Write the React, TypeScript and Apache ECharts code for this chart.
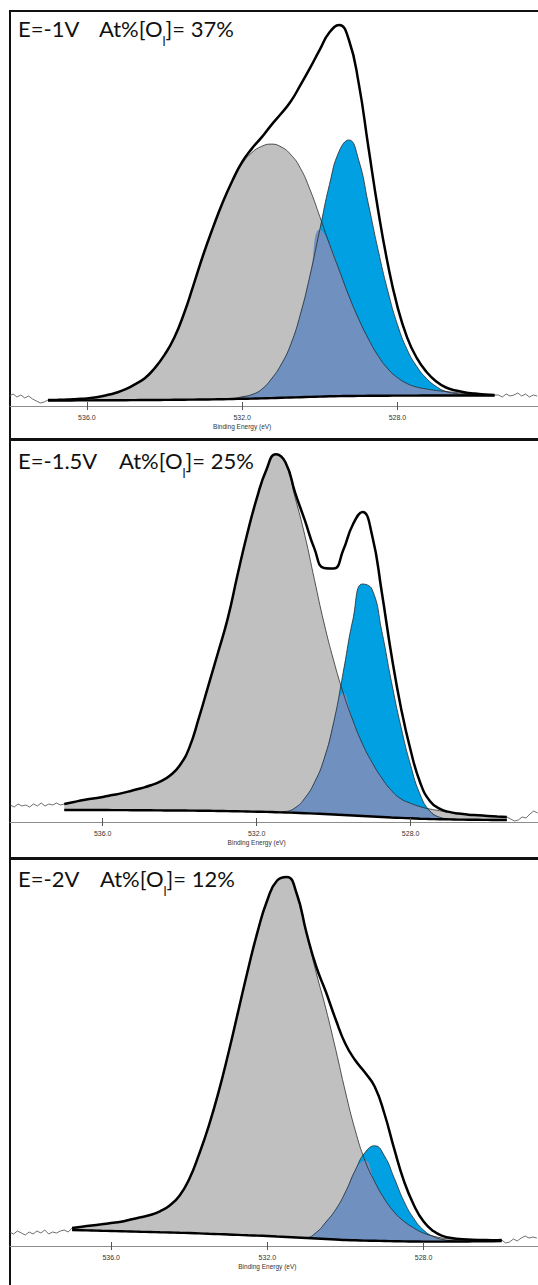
import { useEffect, useRef } from "react";
import * as echarts from "echarts";

// Binding energy grid (eV) of the fitted region
const FIT_E_A = [537.0, 536.75, 536.5, 536.25, 536.0, 535.75, 535.5, 535.25, 535.0, 534.75, 534.5, 534.25, 534.0, 533.75, 533.5, 533.25, 533.0, 532.75, 532.5, 532.25, 532.0, 531.75, 531.5, 531.25, 531.0, 530.75, 530.5, 530.25, 530.0, 529.75, 529.5, 529.25, 529.0, 528.75, 528.5, 528.25, 528.0, 527.75, 527.5, 527.25, 527.0, 526.75, 526.5, 526.25, 526.0, 525.75, 525.5];
const FIT_E_B = [537.0, 536.75, 536.5, 536.25, 536.0, 535.75, 535.5, 535.25, 535.0, 534.75, 534.5, 534.25, 534.0, 533.75, 533.5, 533.25, 533.0, 532.75, 532.5, 532.25, 532.0, 531.75, 531.5, 531.25, 531.0, 530.75, 530.5, 530.25, 530.0, 529.75, 529.5, 529.25, 529.0, 528.75, 528.5, 528.25, 528.0, 527.75, 527.5, 527.25, 527.0, 526.75, 526.5, 526.25, 526.0];

// Panel 1 (E = -1 V): background, O-II component, O-I (lattice) component
const BG_1 = [5.5, 5.5, 5.5, 5.6, 5.6, 5.7, 5.7, 5.8, 5.8, 5.9, 6, 6, 6.1, 6.2, 6.3, 6.4, 6.5, 6.6, 6.8, 7, 7.2, 7.4, 7.6, 7.9, 8.2, 8.5, 8.8, 9.1, 9.4, 9.7, 9.9, 10, 10.1, 10.2, 10.3, 10.3, 10.4, 10.4, 10.4, 10.5, 10.5, 10.5, 10.5, 10.5, 10.5, 10.5, 10.5];
const OII_1 = [0.5, 0.7, 1, 1.5, 2, 3, 5, 7.5, 11, 16, 22, 32, 45, 62, 86, 115, 145, 172, 197, 218, 235, 246, 252, 254, 251, 243, 229, 207, 180, 152, 126, 100, 77, 57, 40, 27, 18, 12, 8.5, 6.5, 5, 4, 3, 2, 1.5, 1, 0.5];
const OI_1 = [0, 0, 0, 0, 0, 0, 0, 0, 0, 0, 0, 0, 0, 0, 0, 0, 0, 0, 0, 0.5, 2, 4, 9, 19, 33, 53, 83, 122, 167, 212, 245, 256, 236, 192, 146, 105, 71, 46, 29, 17, 9, 4, 2, 1, 0.5, 0, 0];
const RAW_L_E_1 = [538.0, 537.9, 537.8, 537.7, 537.6, 537.5, 537.4, 537.3, 537.2, 537.1, 537.0];
const RAW_L_1 = [10, 12, 9, 11, 8, 10, 7, 5, 3, 4, 6];
const RAW_R_E_1 = [525.5, 525.4, 525.3, 525.2, 525.1, 525.0, 524.9, 524.8, 524.7, 524.6, 524.5, 524.4];
const RAW_R_1 = [11, 11, 9, 12, 10, 11, 13, 10, 12, 9, 11, 10];

// Panel 2 (E = -1.5 V)
const BG_2 = [12, 12, 12, 12, 12, 11.9, 11.9, 11.8, 11.8, 11.7, 11.6, 11.5, 11.5, 11.4, 11.3, 11.2, 11.0, 10.9, 10.7, 10.5, 10.3, 10.1, 9.8, 9.5, 9.2, 8.8, 8.4, 8.0, 7.5, 7.0, 6.5, 6.0, 5.5, 5.0, 4.5, 4.1, 3.7, 3.3, 3.0, 2.8, 2.6, 2.4, 2.3, 2.2, 2.1, 2.0, 2.0];
const OII_2 = [6, 8, 10, 11.5, 13, 15, 17, 19.5, 22, 25, 29, 35, 45, 63, 93, 126, 159, 193, 236, 277, 313, 342, 358, 349, 315, 278, 234, 191, 154, 122, 95, 72, 54, 39, 27, 19, 15, 12, 10, 8.5, 7, 6, 5, 4.5, 4, 3.5, 3];
const OI_2 = [0, 0, 0, 0, 0, 0, 0, 0, 0, 0, 0, 0, 0, 0, 0, 0, 0, 0, 0, 0, 0, 0, 0, 1, 5, 15, 31, 55, 92, 143, 196, 232, 227, 186, 136, 91, 53, 24, 8, 2, 0.5, 0, 0, 0, 0, 0, 0];
const RAW_L_E_2 = [538.4, 538.3, 538.2, 538.1, 538.0, 537.9, 537.8, 537.7, 537.6, 537.5, 537.4, 537.3, 537.2, 537.1, 537.0];
const RAW_L_2 = [17, 15, 18, 16, 17, 15, 18, 16, 19, 16, 18, 17, 19, 17, 18];
const RAW_R_E_2 = [525.5, 525.4, 525.3, 525.2, 525.1, 525.0, 524.9, 524.8, 524.7];
const RAW_R_2 = [5, 3, 1, 2, 5, 4, 8, 11, 9];

// Panel 3 (E = -2 V)
const BG_3 = [16, 15.8, 15.5, 15.2, 15, 14.8, 14.5, 14.2, 14, 13.7, 13.5, 13.2, 13, 12.6, 12.2, 11.9, 11.5, 11.1, 10.7, 10.4, 10, 9.5, 9, 8.5, 8, 7.5, 7, 6.5, 6, 5.7, 5.4, 5.2, 5, 4.8, 4.6, 4.5, 4.4, 4.4, 4.4, 4.5, 4.5, 4.6, 4.7, 4.8, 5];
const OII_3 = [2, 3.5, 5, 6.5, 8, 9.5, 12, 14.5, 17, 21, 27, 37, 54, 79, 108, 142, 181, 223, 265, 304, 336, 356, 360, 344, 305, 266, 230, 190, 148, 110, 80, 59, 42, 29, 20, 13.5, 8.5, 5.5, 3.5, 2.5, 2, 1.6, 1.3, 1, 1];
const OI_3 = [0, 0, 0, 0, 0, 0, 0, 0, 0, 0, 0, 0, 0, 0, 0, 0, 0, 0, 0, 0, 0, 0, 0, 0, 0.5, 6, 17, 30, 48, 70, 88, 95, 85, 63, 40, 23, 11.5, 5, 2, 0.8, 0.3, 0, 0, 0, 0];
const RAW_L_E_3 = [538.6, 538.5, 538.4, 538.3, 538.2, 538.1, 538.0, 537.9, 537.8, 537.7, 537.6, 537.5, 537.4, 537.3, 537.2, 537.1, 537.0];
const RAW_L_3 = [14, 12, 15, 13, 11, 14, 12, 15, 13, 16, 12, 14, 13, 15, 16, 14, 18];
const RAW_R_E_3 = [526.0, 525.9, 525.8, 525.7, 525.6, 525.5, 525.4, 525.3, 525.2, 525.1];
const RAW_R_3 = [6, 3, 4, 7, 5, 8, 10, 8, 9, 8];

const TICKS = [536, 532, 528];
const POTENTIALS = ["E=-1V", "E=-1.5V", "E=-2V"];
const OL_PERCENT = ["37%", "25%", "12%"];

const C_OII = "#c0c0c0";
const C_OI = "#00a0e2";
const C_OVER = "#7090c0";
const OUTLINE = "#2b2b2b";

type PanelCfg = {
  top: number; axisY: number; min: number; max: number;
  E: number[]; bg: number[]; oii: number[]; oi: number[];
  rawLE: number[]; rawL: number[]; rawRE: number[]; rawR: number[];
  titleY: number; restX: number;
};

const PANELS: PanelCfg[] = [
  { top: 11, axisY: 406, min: 524.38, max: 537.98, E: FIT_E_A, bg: BG_1, oii: OII_1, oi: OI_1, rawLE: RAW_L_E_1, rawL: RAW_L_1, rawRE: RAW_R_E_1, rawR: RAW_R_1, titleY: 28.5, restX: 99 },
  { top: 440, axisY: 822, min: 524.69, max: 538.41, E: FIT_E_A, bg: BG_2, oii: OII_2, oi: OI_2, rawLE: RAW_L_E_2, rawL: RAW_L_2, rawRE: RAW_R_E_2, rawR: RAW_R_2, titleY: 460, restX: 119 },
  { top: 859, axisY: 1246, min: 525.07, max: 538.59, E: FIT_E_B, bg: BG_3, oii: OII_3, oi: OI_3, rawLE: RAW_L_E_3, rawL: RAW_L_3, rawRE: RAW_R_E_3, rawR: RAW_R_3, titleY: 878.5, restX: 100 },
];

// rows are [intensity, energy] so that stacking happens on the intensity (y) dimension
const rows = (xs: number[], ys: number[]) => xs.map((x, k) => [ys[k], x]);

function buildOption() {
  const grid: any[] = [];
  const xAxis: any[] = [];
  const yAxis: any[] = [];
  const series: any[] = [];
  const graphic: any[] = [];
  const labelFont = "Liberation Sans";
  const TITLE_FS = 22;

  PANELS.forEach((p, i) => {
    const h = p.axisY - p.top;
    grid.push({ left: 10, top: p.top, width: 528, height: h, containLabel: false });
    xAxis.push({
      gridIndex: i, type: "value", min: p.min, max: p.max, inverse: true, position: "bottom", z: 10,
      axisLine: { show: true, lineStyle: { color: "#8c8c8c", width: 1 } },
      axisTick: { show: true, customValues: TICKS, length: 4, lineStyle: { color: "#555", width: 1 } },
      axisLabel: {
        customValues: TICKS, fontSize: 7, color: "#333333", margin: 7, fontFamily: labelFont, lineHeight: 9,
        formatter: (v: number) => (v === 532 ? `${v.toFixed(1)}\n{n|Binding Energy (eV)}` : v.toFixed(1)),
        rich: { n: { fontSize: 6.5, lineHeight: 9, color: "#333333", fontFamily: labelFont } },
      },
      splitLine: { show: false },
    });
    xAxis.push({
      gridIndex: i, type: "value", min: p.min, max: p.max, inverse: true, position: "top", offset: -h, z: 10,
      axisLine: { show: false },
      axisTick: { show: true, customValues: TICKS, length: 4, lineStyle: { color: "#555", width: 1 } },
      axisLabel: { show: false },
      splitLine: { show: false },
    });
    yAxis.push({ gridIndex: i, type: "value", min: 0, max: h, show: false, splitLine: { show: false } });

    const base = {
      type: "line", xAxisIndex: 2 * i, yAxisIndex: i, symbol: "none", smooth: 0.5, silent: true,
      encode: { x: 1, y: 0 },
    };
    const over = p.oii.map((v, k) => Math.min(v, p.oi[k]));
    const oiiAbs = p.bg.map((v, k) => v + p.oii[k]);
    const oiAbs = p.bg.map((v, k) => v + p.oi[k]);
    const env = p.bg.map((v, k) => v + p.oii[k] + p.oi[k]);
    const hidden = { opacity: 0, width: 0 };

    // filled components sitting on the background
    series.push({ ...base, stack: `g${i}`, data: rows(p.E, p.bg), lineStyle: hidden });
    series.push({ ...base, stack: `g${i}`, data: rows(p.E, p.oii), lineStyle: hidden, areaStyle: { color: C_OII, opacity: 1 } });
    series.push({ ...base, stack: `b${i}`, data: rows(p.E, p.bg), lineStyle: hidden });
    series.push({ ...base, stack: `b${i}`, data: rows(p.E, p.oi), lineStyle: hidden, areaStyle: { color: C_OI, opacity: 1 } });
    series.push({ ...base, stack: `o${i}`, data: rows(p.E, p.bg), lineStyle: hidden });
    series.push({ ...base, stack: `o${i}`, data: rows(p.E, over), lineStyle: hidden, areaStyle: { color: C_OVER, opacity: 1 } });
    // component outlines
    series.push({ ...base, data: rows(p.E, oiiAbs), lineStyle: { color: OUTLINE, width: 0.8 } });
    series.push({ ...base, data: rows(p.E, oiAbs), lineStyle: { color: OUTLINE, width: 0.8 } });
    // raw spectrum tails, background and envelope
    series.push({ ...base, data: rows(p.rawLE, p.rawL), smooth: false, lineStyle: { color: "#4a4a4a", width: 0.8 } });
    series.push({ ...base, data: rows(p.rawRE, p.rawR), smooth: false, lineStyle: { color: "#4a4a4a", width: 0.8 } });
    series.push({ ...base, data: rows(p.E, p.bg), lineStyle: { color: "#000", width: 2.4 } });
    series.push({ ...base, data: rows(p.E, env), lineStyle: { color: "#000", width: 2.5 } });

    graphic.push({
      type: "text", x: 18, y: p.titleY, silent: true,
      style: { text: POTENTIALS[i], fontSize: TITLE_FS, fontFamily: "Lato", fill: "#111", verticalAlign: "middle" },
    });
    graphic.push({
      type: "text", x: p.restX, y: p.titleY + 4, silent: true,
      style: {
        text: `{m|At%[O}{s|l}{m|]= ${OL_PERCENT[i]}}`, verticalAlign: "middle",
        rich: {
          m: { fontSize: TITLE_FS, fontFamily: "Lato", fill: "#111", padding: [0, 0, 8, 0], verticalAlign: "bottom" },
          s: { fontSize: 13, fontFamily: "Lato", fill: "#111", verticalAlign: "bottom" },
        },
      },
    });
  });

  // panel frames
  graphic.push({ type: "line", silent: true, shape: { x1: 10, y1: 10, x2: 10, y2: 1285 }, style: { stroke: "#111", lineWidth: 2 } });
  graphic.push({ type: "line", silent: true, shape: { x1: 9, y1: 11, x2: 538, y2: 11 }, style: { stroke: "#111", lineWidth: 2 } });
  graphic.push({ type: "line", silent: true, shape: { x1: 9, y1: 439.5, x2: 538, y2: 439.5 }, style: { stroke: "#111", lineWidth: 3 } });
  graphic.push({ type: "line", silent: true, shape: { x1: 9, y1: 858.5, x2: 538, y2: 858.5 }, style: { stroke: "#111", lineWidth: 3 } });

  return { animation: false, backgroundColor: "#fff", grid, xAxis, yAxis, series, graphic };
}

export default function App() {
  const ref = useRef<HTMLDivElement>(null);
  useEffect(() => {
    if (!ref.current) return;
    const chart = echarts.init(ref.current, undefined, { renderer: "svg" });
    chart.setOption(buildOption() as any);
    return () => chart.dispose();
  }, []);
  return <div ref={ref} style={{ position: "absolute", left: 0, top: 0, width: 538, height: 1285, background: "#fff" }} />;
}
